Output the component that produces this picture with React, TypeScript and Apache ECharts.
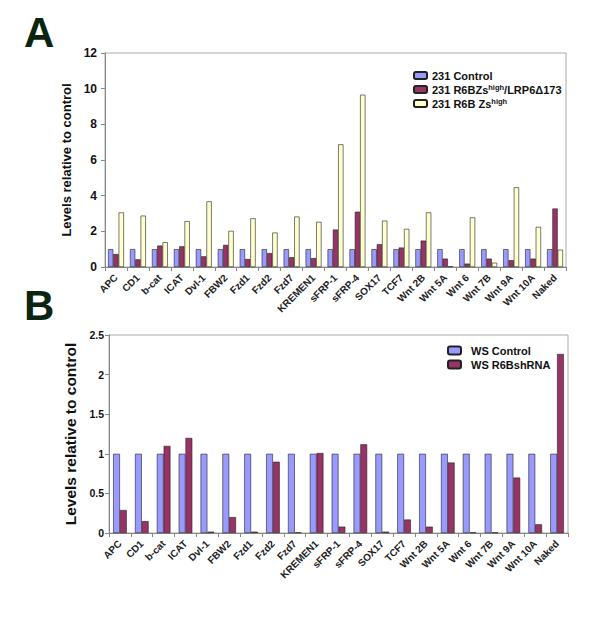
import React, { useEffect, useRef } from 'react';
import * as echarts from 'echarts';

const categories = ['APC', 'CD1', 'b-cat', 'ICAT', 'Dvl-1', 'FBW2', 'Fzd1', 'Fzd2', 'Fzd7', 'KREMEN1', 'sFRP-1', 'sFRP-4', 'SOX17', 'TCF7', 'Wnt 2B', 'Wnt 5A', 'Wnt 6', 'Wnt 7B', 'Wnt 9A', 'Wnt 10A', 'Naked'];

// panel A
const control231 = [1, 1, 1, 1, 1, 1, 1, 1, 1, 1, 1, 1, 1, 1, 1, 1, 1, 1, 1, 1, 1];
const r6bzsLrp6 = [0.73, 0.43, 1.2, 1.16, 0.6, 1.24, 0.45, 0.78, 0.55, 0.5, 2.1, 3.1, 1.28, 1.09, 1.48, 0.47, 0.19, 0.47, 0.38, 0.47, 3.28];
const r6bZs = [3.06, 2.88, 1.39, 2.57, 3.68, 2.03, 2.73, 1.93, 2.83, 2.53, 6.88, 9.66, 2.6, 2.14, 3.06, 0.04, 2.78, 0.24, 4.47, 2.25, 0.97];

// panel B
const wsControl = [1, 1, 1, 1, 1, 1, 1, 1, 1, 1, 1, 1, 1, 1, 1, 1, 1, 1, 1, 1, 1];
const wsShRNA = [0.29, 0.15, 1.1, 1.2, 0.017, 0.2, 0.017, 0.9, 0.008, 1.01, 0.08, 1.12, 0.017, 0.17, 0.08, 0.89, 0.008, 0.008, 0.7, 0.11, 2.26];

const seriesNamesA = ['231 Control', '231 R6BZs-high/LRP6Δ173', '231 R6B Zs-high'];
const seriesNamesB = ['WS Control', 'WS R6BshRNA'];

const FONT = '"Liberation Sans", Arial, sans-serif';
const BLUE = '#9999ff';
const RED = '#993366';
const YELLOW = '#ffffcc';

const legendTextA: Record<string, string> = {
  '231 Control': '{b|231 Control}',
  '231 R6BZs-high/LRP6Δ173': '{b|231 R6BZs}{s|high}{b|/LRP6Δ173}',
  '231 R6B Zs-high': '{b|231 R6B Zs}{s|high}',
};

const xAxisFor = () => ({
  type: 'category',
  data: categories,
  axisLine: { lineStyle: { color: '#888', width: 1 } },
  axisTick: { show: true, length: 4, lineStyle: { color: '#888' } },
  axisLabel: { show: true, rotate: 45, interval: 0, fontSize: 10, fontWeight: 'bold', color: '#222', margin: 9 },
});

const barStyle = (color: string) => ({ color, borderColor: '#222', borderWidth: 0.6 });

const optionsA = {
  animation: false,
  textStyle: { fontFamily: FONT },
  grid: { left: 105, top: 53, width: 461, height: 214, show: true, borderColor: '#aaa', borderWidth: 1 },
  xAxis: xAxisFor(),
  yAxis: {
    type: 'value',
    min: 0,
    max: 12,
    interval: 2,
    name: 'Levels relative to control',
    nameLocation: 'middle',
    nameRotate: 90,
    nameGap: 32,
    nameTextStyle: { fontSize: 13, fontWeight: 'bold', color: '#111' },
    axisLine: { show: true, lineStyle: { color: '#888', width: 1 } },
    axisTick: { show: true, length: 4, lineStyle: { color: '#888' } },
    splitLine: { show: false },
    axisLabel: { fontSize: 12, fontWeight: 'bold', color: '#111', margin: 8 },
  },
  legend: {
    data: seriesNamesA,
    orient: 'vertical',
    left: 413,
    top: 70,
    padding: 0,
    itemGap: 2,
    itemWidth: 13,
    itemHeight: 7,
    formatter: (name: string) => legendTextA[name],
    textStyle: {
      rich: {
        b: { fontSize: 11, fontWeight: 'bold', color: '#111', lineHeight: 13, fontFamily: FONT },
        s: { fontSize: 7.5, fontWeight: 'bold', color: '#111', lineHeight: 13, verticalAlign: 'top', fontFamily: FONT },
      },
    },
  },
  series: [
    { name: seriesNamesA[0], type: 'bar', data: control231, barWidth: 5.3, barGap: '0%', itemStyle: barStyle(BLUE) },
    { name: seriesNamesA[1], type: 'bar', data: r6bzsLrp6, barWidth: 5.3, barGap: '0%', itemStyle: barStyle(RED) },
    { name: seriesNamesA[2], type: 'bar', data: r6bZs, barWidth: 5.3, barGap: '0%', itemStyle: barStyle(YELLOW) },
  ],
};

const optionsB = {
  animation: false,
  textStyle: { fontFamily: FONT },
  grid: { left: 109, top: 335, width: 459, height: 198, show: true, borderColor: '#aaa', borderWidth: 1 },
  xAxis: xAxisFor(),
  yAxis: {
    type: 'value',
    min: 0,
    max: 2.5,
    interval: 0.5,
    name: 'Levels relative to control',
    nameLocation: 'middle',
    nameRotate: 90,
    nameGap: 31,
    nameTextStyle: { fontSize: 15.5, fontWeight: 'bold', color: '#111' },
    axisLine: { show: true, lineStyle: { color: '#888', width: 1 } },
    axisTick: { show: true, length: 4, lineStyle: { color: '#888' } },
    splitLine: { show: false },
    axisLabel: { fontSize: 10.5, fontWeight: 'bold', color: '#111', margin: 5 },
  },
  legend: {
    data: seriesNamesB,
    orient: 'vertical',
    left: 447,
    top: 345,
    padding: 0,
    itemGap: 3,
    itemWidth: 13,
    itemHeight: 8,
    formatter: (name: string) => '{b|' + name + '}',
    textStyle: {
      rich: {
        b: { fontSize: 11, fontWeight: 'bold', color: '#111', lineHeight: 13, padding: [0, 0, 0, 5], fontFamily: FONT },
      },
    },
  },
  series: [
    { name: seriesNamesB[0], type: 'bar', data: wsControl, barWidth: 6.8, barGap: '0%', itemStyle: barStyle(BLUE) },
    { name: seriesNamesB[1], type: 'bar', data: wsShRNA, barWidth: 6.8, barGap: '0%', itemStyle: barStyle(RED) },
  ],
};

// each panel is its own chart, both laid over the full 600x623 page
const Panel = ({ options }: { options: any }) => {
  const chartRef = useRef(null);

  useEffect(() => {
    const chart = echarts.init(chartRef.current, null, { renderer: 'svg' });
    chart.setOption(options);
    return () => {
      chart.dispose();
    };
  }, []);

  return <div ref={chartRef} style={{ position: 'absolute', left: 0, top: 0, width: '600px', height: '623px' }}></div>;
};

// panel letters kept outside the charts
const letterStyle = (top: number): React.CSSProperties => ({
  position: 'absolute',
  left: 24,
  top,
  fontSize: 42,
  lineHeight: '42px',
  fontWeight: 'bold',
  fontFamily: FONT,
  color: '#0b2410',
  pointerEvents: 'none',
});

const App = () => (
  <div style={{ position: 'fixed', left: 0, top: 0, width: '600px', height: '623px', background: '#fff' }}>
    <Panel options={optionsA} />
    <Panel options={optionsB} />
    <div style={letterStyle(12)}>A</div>
    <div style={letterStyle(285)}>B</div>
  </div>
);

export default App;
